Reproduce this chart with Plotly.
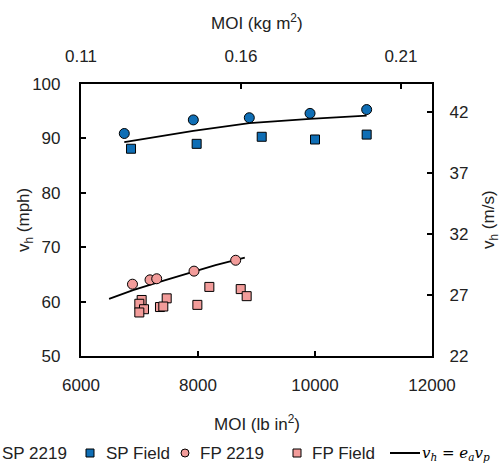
import plotly.graph_objects as go

# ---- data ----
sp2219_moi = [6740, 7920, 8877, 9915, 10883]
sp2219_vh = [90.9, 93.4, 93.8, 94.6, 95.3]

spfield_moi = [6855, 7977, 9089, 10000, 10883]
spfield_vh = [88.1, 89.0, 90.3, 89.8, 90.7]

fp2219_moi = [6880, 7180, 7294, 7932, 8644]
fp2219_vh = [63.2, 64.0, 64.2, 65.6, 67.6]

fpfield_moi = [7037, 6997, 7077, 6997, 7465, 7350, 7407, 7989, 8194, 8730, 8832]
fpfield_vh = [60.3, 59.6, 58.6, 58.0, 60.6, 59.0, 59.1, 59.4, 62.7, 62.3, 61.0]

sp_model_moi = [6740, 7920, 8877, 9915, 10883]
sp_model_vh = [89.3, 91.4, 92.8, 93.6, 94.2]

fp_model_moi = [6480, 6890, 7300, 7780, 8300, 8800]
fp_model_vh = [60.5, 62.1, 63.5, 65.1, 66.7, 68.1]

left_ticks = [50, 60, 70, 80, 90, 100]
bottom_ticks = [6000, 8000, 10000, 12000]
bottom_labels = ["6000", "8000", "10000", "12000"]
top_ticks = [0.11, 0.16, 0.21]
top_labels = ["0.11", "0.16", "0.21"]
right_ticks = [22, 27, 32, 37, 42]

legend_labels = ["SP 2219", "SP Field", "FP 2219", "FP Field"]

BLUE = "#0F6EB5"
PINK = "#F29C9A"
FONT = "Liberation Sans"
TXT = "#222222"
FS = 17

fig = go.Figure()

mk_line = dict(color="black", width=1)
fig.add_trace(go.Scatter(x=sp_model_moi, y=sp_model_vh, mode="lines",
                         line=dict(color="black", width=1.8), showlegend=False))
fig.add_trace(go.Scatter(x=fp_model_moi, y=fp_model_vh, mode="lines",
                         line=dict(color="black", width=1.8), showlegend=False))
fig.add_trace(go.Scatter(x=sp2219_moi, y=sp2219_vh, mode="markers",
                         marker=dict(symbol="circle", size=10, color=BLUE, line=mk_line),
                         showlegend=False))
fig.add_trace(go.Scatter(x=spfield_moi, y=spfield_vh, mode="markers",
                         marker=dict(symbol="square", size=9, color=BLUE, line=mk_line),
                         showlegend=False))
fig.add_trace(go.Scatter(x=fp2219_moi, y=fp2219_vh, mode="markers",
                         marker=dict(symbol="circle", size=10, color=PINK, line=mk_line),
                         showlegend=False))
fig.add_trace(go.Scatter(x=fpfield_moi, y=fpfield_vh, mode="markers",
                         marker=dict(symbol="square", size=9, color=PINK, line=mk_line),
                         showlegend=False))

axis_common = dict(showline=True, linecolor="black", linewidth=2.2, ticks="inside",
                   ticklen=5, tickwidth=1.5, tickcolor="black", showgrid=False,
                   zeroline=False, tickfont=dict(family=FONT, size=FS, color=TXT))

fig.update_layout(
    width=500, height=465,
    margin=dict(l=81, r=68, t=84, b=109),
    paper_bgcolor="white", plot_bgcolor="white",
    showlegend=False,
    xaxis=dict(range=[6000, 12000], tickvals=bottom_ticks, ticktext=bottom_labels,
               ticklabelstandoff=12, **axis_common),
    yaxis=dict(range=[50, 100], tickvals=left_ticks, ticklabelstandoff=15,
               **axis_common),
    xaxis2=dict(range=[0.11, 0.2197], tickvals=top_ticks, ticktext=top_labels, side="top",
                overlaying="x", anchor="y", ticklabelstandoff=13, **axis_common),
    yaxis2=dict(range=[22, 44.3], tickvals=right_ticks, side="right", overlaying="y",
                anchor="x", ticklabelstandoff=12, **axis_common),
)

# invisible trace so the secondary axes exist
fig.add_trace(go.Scatter(x=[None], y=[None], xaxis="x2", yaxis="y2", showlegend=False,
                         hoverinfo="skip"))

W, H = 351.0, 272.0
def px(p):
    return (p - 81) / W
def py(p):
    return (356 - p) / H

tfont = dict(family=FONT, size=FS, color=TXT)
common_ann = dict(xref="paper", yref="paper", showarrow=False, xanchor="center", yanchor="middle")
fig.add_annotation(text="v<sub>h</sub> (mph)", x=px(25), y=0.5, textangle=-90, font=tfont, **common_ann)
fig.add_annotation(text="v<sub>h</sub> (m/s)", x=px(490), y=0.5, textangle=-90, font=tfont, **common_ann)
fig.add_annotation(text="MOI (kg m<sup>2</sup>)", x=0.5, y=py(22), font=tfont, **common_ann)
fig.add_annotation(text="MOI (lb in<sup>2</sup>)", x=0.5, y=py(423), font=tfont, **common_ann)

# legend row (manual)
ly = py(453)
legend_items = [
    ("circle", BLUE, -14, 0),
    ("square", BLUE, 90, 104),
    ("circle", PINK, 185, 198),
    ("square", PINK, 297, 310),
]
for (sym, col, sx, tx), lab in zip(legend_items, legend_labels):
    fig.add_shape(type="rect" if sym == "square" else "circle",
                  xref="paper", yref="paper", xsizemode="pixel", ysizemode="pixel",
                  xanchor=px(sx), yanchor=ly, x0=-4, x1=4, y0=-4, y1=4,
                  fillcolor=col, line=dict(color="black", width=1))
    fig.add_annotation(text=lab, x=px(tx), y=ly, xref="paper", yref="paper", showarrow=False,
                       xanchor="left", yanchor="middle", font=tfont)

fig.add_shape(type="line", xref="paper", yref="paper", x0=px(390), x1=px(420), y0=ly, y1=ly,
              line=dict(color="black", width=2))
fig.add_annotation(text="<i>v</i><sub><i>h</i></sub> = <i>e</i><sub><i>a</i></sub><i>v</i><sub><i>p</i></sub>",
                   x=px(420), y=ly, xref="paper", yref="paper", showarrow=False,
                   xanchor="left", yanchor="middle",
                   font=dict(family="DejaVu Serif", size=15, color="black"))

fig.write_html("out.html")
